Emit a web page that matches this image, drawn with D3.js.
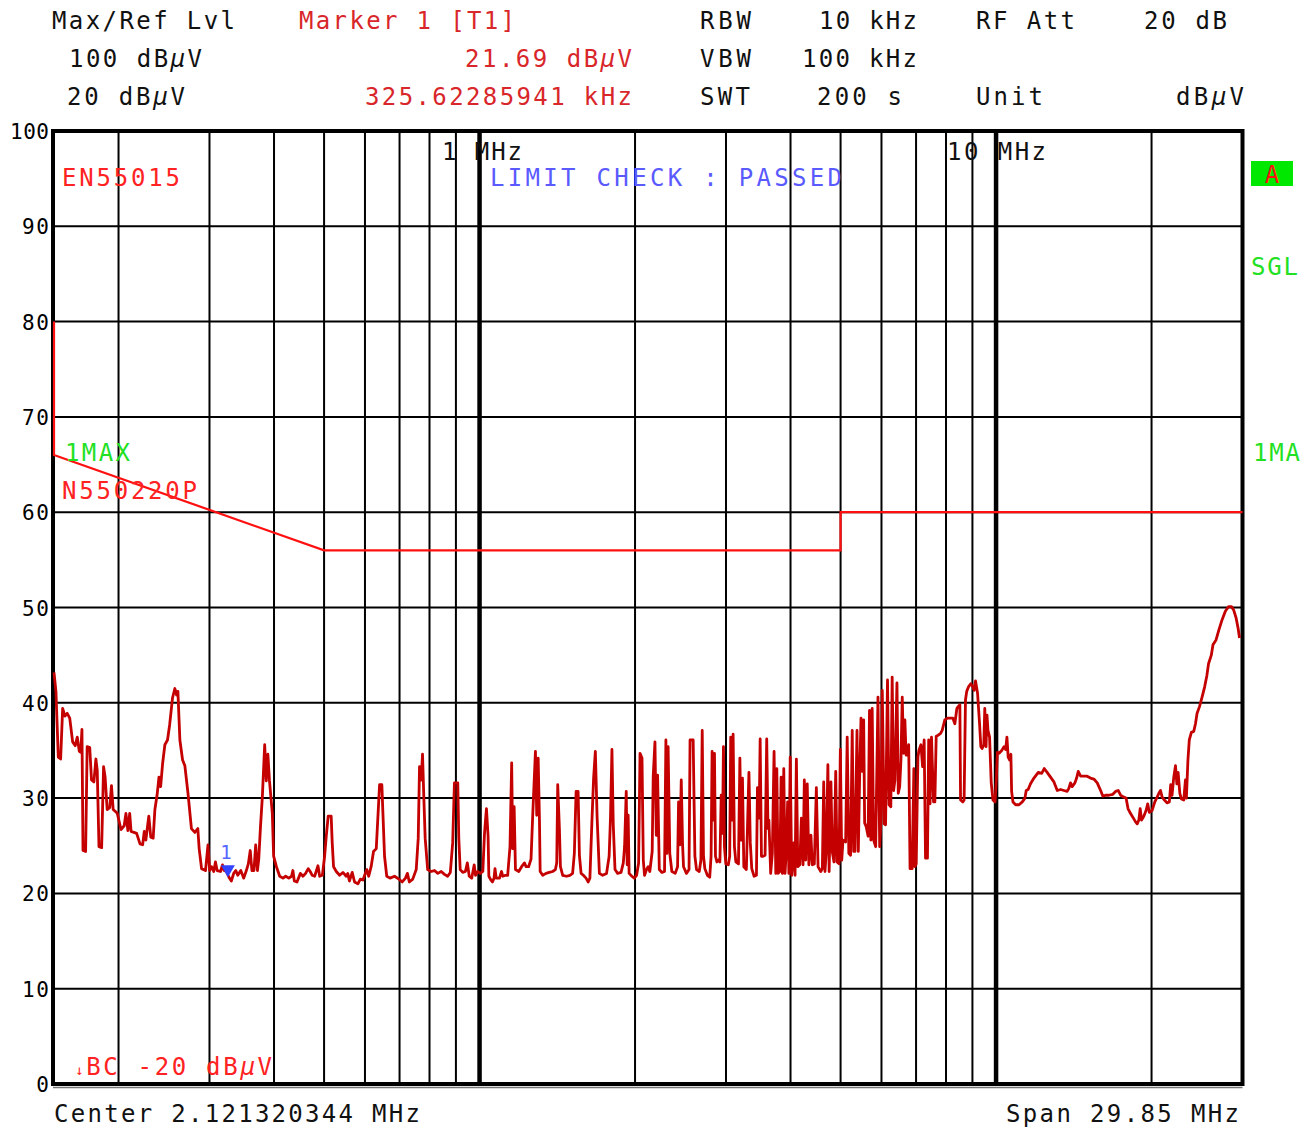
<!DOCTYPE html>
<html><head><meta charset="utf-8">
<script src="https://cdn.jsdelivr.net/npm/d3@7"></script>
<style>
html,body{margin:0;padding:0;background:#fff;}
svg text{font-family:"DejaVu Sans Mono","Liberation Mono",monospace;}
</style></head>
<body><svg id="c" width="1314" height="1131"></svg>
<script>
// ---------------- data ----------------
const yTicks = [0,10,20,30,40,50,60,70,80,90,100];
const gridFreqs = [0.2,0.3,0.4,0.5,0.6,0.7,0.8,0.9,1,2,3,4,5,6,7,8,9,10,20];
const majorFreqs = [1,10];
const limitFreq  = [0.15,0.15,0.5,5,5,30];
const limitLevel = [80,66,56,56,60,60];
const markerFreq = 0.32562285941;
const markerLevel = 21.69;
const traceFreq = [
0.1500,0.1513,0.1529,0.1545,0.1559,0.1575,0.1591,0.1609,0.1630,0.1649,0.1664,0.1679,0.1690,0.1699,0.1707,0.1727,0.1739,0.1759,0.1773,0.1792,
0.1808,0.1819,0.1833,0.1855,0.1871,0.1884,0.1901,0.1923,0.1938,0.1953,0.1989,0.2022,0.2051,0.2067,0.2085,0.2102,0.2115,0.2142,0.2168,0.2201,
0.2227,0.2243,0.2259,0.2289,0.2309,0.2334,0.2352,0.2376,0.2395,0.2413,0.2434,0.2459,0.2488,0.2512,0.2544,0.2571,0.2591,0.2606,0.2629,0.2661,
0.2688,0.2726,0.2768,0.2810,0.2848,0.2865,0.2896,0.2947,0.2980,0.3002,0.3029,0.3057,0.3081,0.3104,0.3151,0.3179,0.3202,0.3235,0.3272,0.3307,
0.3342,0.3373,0.3403,0.3449,0.3495,0.3536,0.3567,0.3598,0.3625,0.3658,0.3686,0.3715,0.3737,0.3765,0.3798,0.3837,0.3865,0.3892,0.3920,0.3970,
0.3993,0.4043,0.4103,0.4163,0.4213,0.4273,0.4325,0.4351,0.4379,0.4431,0.4499,0.4551,0.4605,0.4659,0.4700,0.4743,0.4794,0.4866,0.4903,0.4962,
0.5012,0.5049,0.5093,0.5161,0.5185,0.5216,0.5280,0.5359,0.5438,0.5519,0.5557,0.5598,0.5668,0.5728,0.5814,0.5877,0.5945,0.6049,0.6101,0.6167,
0.6233,0.6310,0.6367,0.6404,0.6469,0.6498,0.6547,0.6612,0.6710,0.6845,0.6979,0.7085,0.7187,0.7250,0.7312,0.7424,0.7540,0.7608,0.7652,0.7710,
0.7755,0.7799,0.7847,0.7935,0.8056,0.8179,0.8302,0.8429,0.8552,0.8674,0.8778,0.8871,0.8940,0.9075,0.9116,0.9173,0.9279,0.9388,0.9470,0.9551,
0.9657,0.9764,0.9822,0.9924,1.0031,1.0147,1.0223,1.0312,1.0388,1.0423,1.0521,1.0592,1.0668,1.0713,1.0771,1.0931,1.1028,1.1092,1.1223,1.1335,
1.1454,1.1539,1.1592,1.1667,1.1736,1.1911,1.2092,1.2215,1.2305,1.2443,1.2579,1.2672,1.2829,1.2904,1.2986,1.3061,1.3102,1.3253,1.3451,1.3643,
1.3851,1.4023,1.4106,1.4169,1.4277,1.4341,1.4487,1.4741,1.4960,1.5141,1.5259,1.5378,1.5517,1.5607,1.5725,1.5885,1.6073,1.6232,1.6354,1.6506,
1.6627,1.6757,1.6886,1.7061,1.7311,1.7615,1.7818,1.7926,1.8043,1.8150,1.8292,1.8508,1.8790,1.8981,1.9089,1.9230,1.9313,1.9396,1.9478,1.9723,
1.9932,2.0140,2.0322,2.0449,2.0631,2.0749,2.0867,2.1049,2.1203,2.1361,2.1589,2.1688,2.1857,2.1986,2.2115,2.2284,2.2552,2.2810,2.2949,2.3048,
2.3177,2.3350,2.3567,2.3925,2.4175,2.4283,2.4435,2.4576,2.4717,2.4826,2.5151,2.5444,2.5559,2.5915,2.6117,2.6307,2.6627,2.6828,2.6983,2.7137,
2.7303,2.7611,2.7901,2.8070,2.8199,2.8329,2.8498,2.8627,2.8809,2.9016,2.9198,2.9366,2.9535,2.9664,2.9794,2.9976,3.0313,3.0498,3.0640,3.0782,
3.0966,3.1150,3.1349,3.1717,3.1916,3.2100,3.2284,3.2483,3.2851,3.3231,3.3433,3.3650,3.4006,3.4362,3.4517,3.4780,3.4935,3.5137,3.5400,3.5710,
3.5973,3.6174,3.6324,3.6612,3.6883,3.7171,3.7459,3.7628,3.7848,3.8136,3.8356,3.8577,3.8814,3.9033,3.9254,3.9491,3.9708,3.9948,4.0208,4.0578,
4.0818,4.1059,4.1318,4.1688,4.1984,4.2299,4.2540,4.2799,4.3095,4.3405,4.3810,4.4073,4.4477,4.4882,4.5226,4.5772,4.6096,4.6379,4.6642,4.6905,
4.7249,4.7514,4.7892,4.8178,4.8554,4.8930,4.9217,4.9660,4.9947,5.0257,5.0545,5.1142,5.1496,5.1872,5.2276,5.2663,5.3002,5.3316,5.3799,5.4114,
5.4452,5.4767,5.5081,5.5420,5.5662,5.6048,5.6531,5.6879,5.7222,5.7566,5.7936,5.8464,5.9072,5.9521,5.9865,6.0209,6.0737,6.1107,6.1635,6.2062,
6.2553,6.2929,6.3334,6.3709,6.4287,6.4662,6.5067,6.5442,6.5818,6.6223,6.6598,6.6973,6.7378,6.7744,6.8154,6.8786,6.9322,6.9638,7.0049,7.0586,
7.0902,7.1533,7.2070,7.2576,7.3017,7.3649,7.4055,7.4504,7.4988,7.5678,7.6126,7.6575,7.7265,7.8094,7.8647,7.9578,8.0511,8.1590,8.2458,8.3212,
8.3967,8.4458,8.5099,8.5363,8.6232,8.6722,8.7250,8.7741,8.8495,8.9316,9.0142,9.0678,9.1255,9.2080,9.2905,9.3441,9.3978,9.4679,9.5091,9.5627,
9.6040,9.6453,9.7147,9.7869,9.8637,9.9539,10.013,10.058,10.135,10.256,10.360,10.437,10.496,10.554,10.619,10.683,10.718,10.782,10.915,11.078,
11.241,11.374,11.438,11.537,11.661,11.839,12.071,12.255,12.395,12.557,12.748,12.943,13.137,13.338,13.532,13.727,13.827,13.935,14.038,14.212,
14.321,14.425,14.579,14.792,15.005,15.234,15.466,15.699,15.938,16.101,16.291,16.523,16.829,17.037,17.237,17.422,17.676,17.853,18.007,18.203,
18.397,18.624,18.759,18.902,19.012,19.129,19.323,19.517,19.660,19.806,20.045,20.293,20.505,20.662,20.818,20.965,21.186,21.425,21.651,21.782,
21.912,22.083,22.254,22.385,22.516,22.687,22.858,23.089,23.260,23.361,23.522,23.666,23.886,24.139,24.326,24.502,24.766,25.052,25.348,25.601,
25.784,26.108,26.301,26.661,26.986,27.383,27.791,28.199,28.554,28.856,29.159,29.422,29.606
];
const traceLevel = [
43.2,41.2,34.3,34.1,39.4,38.6,38.9,38.4,35.9,35.5,36.4,34.9,34.8,37.2,24.5,24.4,35.4,35.3,31.9,31.7,
34.1,32.9,24.9,24.8,33.3,32.2,28.8,29.0,31.3,28.8,28.4,26.7,27.1,28.4,26.6,28.4,26.5,26.4,26.3,25.2,
25.1,26.5,25.6,28.1,25.9,25.8,28.8,30.4,32.2,31.2,33.6,35.6,36.1,37.7,40.5,41.5,40.8,41.2,36.1,34.0,
33.4,30.5,26.8,26.4,26.8,24.7,22.6,22.4,25.1,22.4,22.8,22.3,23.3,22.4,22.3,23.0,22.4,22.3,21.7,21.3,
22.1,22.4,21.9,22.4,21.6,22.4,23.1,24.5,22.4,22.4,25.1,22.4,23.6,26.9,30.2,35.6,31.8,34.6,31.8,28.4,
23.9,22.8,21.8,21.6,21.8,21.6,21.8,22.4,21.3,21.2,22.1,21.8,22.1,22.6,22.3,21.9,21.8,22.9,21.8,21.9,
23.9,26.0,28.1,28.1,25.3,22.8,22.3,21.9,22.2,21.8,22.1,21.3,22.2,21.2,21.0,21.5,21.4,22.5,21.8,22.8,
24.4,24.7,28.8,31.4,31.4,28.6,23.9,21.8,21.6,21.8,21.5,21.2,21.6,22.1,21.2,21.5,22.5,25.8,33.3,31.9,
34.6,30.2,25.8,22.5,22.3,22.4,22.1,22.3,22.0,21.8,22.2,25.3,31.6,31.6,25.8,22.5,22.2,22.3,23.2,21.8,
21.6,23.0,21.9,22.3,22.1,22.3,26.3,28.9,26.0,21.8,21.4,21.2,21.6,22.6,21.6,21.6,22.3,21.8,21.9,21.9,
24.9,33.7,24.7,29.1,22.5,22.3,22.9,23.2,22.8,22.8,23.6,28.1,34.9,28.2,34.2,27.7,22.3,21.9,22.1,22.2,
22.3,22.5,23.2,31.4,26.7,22.8,21.9,21.8,21.9,22.1,24.2,30.7,30.7,24.0,22.1,21.9,21.6,21.2,21.6,27.7,
32.1,34.9,28.1,22.1,21.9,22.1,23.9,27.9,35.1,27.2,22.5,22.1,22.2,23.2,24.9,30.7,23.0,28.2,22.1,21.8,
21.6,21.9,23.2,34.7,34.2,23.5,21.9,22.5,22.8,22.3,24.4,32.3,35.9,26.1,32.4,22.5,22.2,22.3,36.1,24.2,
35.4,24.2,22.3,22.1,22.8,29.6,25.1,31.9,25.2,22.8,22.1,22.5,36.1,36.1,23.9,22.5,22.3,23.5,37.1,23.9,
22.6,21.9,21.7,23.9,34.9,27.7,34.7,23.9,23.3,23.5,23.3,30.3,26.3,35.4,24.9,23.1,23.0,23.9,36.4,27.7,
36.7,24.9,23.3,23.1,34.2,25.6,32.1,22.8,22.5,32.7,25.3,22.6,21.8,21.9,31.1,27.9,36.2,23.9,23.9,24.0,
36.2,26.8,27.7,22.1,24.2,34.9,22.1,33.1,22.1,22.3,32.2,22.1,33.1,22.1,24.5,29.6,22.1,34.3,21.9,25.3,
21.9,34.1,22.8,23.0,27.9,23.0,31.9,23.5,31.5,23.0,26.1,23.0,23.1,31.1,22.8,22.3,22.6,31.7,22.3,24.4,
33.5,22.3,31.7,24.4,23.3,32.8,23.3,23.1,35.1,23.5,25.6,25.4,36.4,24.2,24.0,37.1,24.4,24.4,37.1,24.4,
32.6,38.4,32.8,38.2,27.4,27.0,26.0,39.2,25.6,39.4,25.6,24.9,40.6,24.9,27.7,41.3,27.3,27.2,42.4,29.3,
29.1,42.7,30.8,31.9,42.1,30.5,31.2,34.0,40.6,34.7,38.2,34.5,34.5,35.6,22.6,22.6,33.1,22.8,23.1,34.3,
35.0,35.6,33.3,36.1,23.7,23.7,36.1,29.4,36.4,29.6,29.6,36.5,36.6,36.8,37.1,38.2,38.4,38.4,38.4,37.8,
39.4,39.6,39.8,29.8,29.6,29.8,40.3,41.2,41.7,42.0,41.7,41.3,42.3,41.0,37.8,35.4,35.2,35.6,39.4,35.4,
38.7,37.1,36.4,31.6,29.8,29.6,31.9,34.8,34.7,35.0,35.4,35.1,36.4,34.3,34.0,34.6,30.7,29.6,29.3,29.3,
29.6,30.0,30.8,30.9,31.5,32.1,32.7,32.6,33.1,32.7,32.2,31.7,30.8,30.9,30.8,30.7,31.0,31.6,31.2,31.6,
32.1,32.8,32.3,32.3,32.3,32.1,32.0,31.6,30.8,30.2,30.3,30.3,30.4,30.7,30.8,30.3,30.1,30.0,28.9,28.4,
28.0,27.5,27.3,27.7,28.9,27.7,28.1,28.7,29.4,28.5,28.7,29.6,30.1,30.5,30.8,30.1,29.8,29.5,29.6,31.4,
30.3,32.2,33.4,31.5,32.7,30.5,29.9,29.8,31.9,30.0,34.0,36.1,36.9,37.0,37.8,38.9,39.6,40.6,41.7,42.9,
44.1,45.0,46.1,46.6,47.6,48.7,49.6,50.1,50.1,49.7,48.9,47.8,46.8
];

// ---------------- drawing ----------------
const svg = d3.select("#c");
svg.append("rect").attr("width",1314).attr("height",1131).attr("fill","#fff");

const x = d3.scaleLog().domain([0.15,30]).range([54,1242.5]);
const y = d3.scaleLinear().domain([0,100]).range([1084,131]);
const X0 = x.range()[0], X1 = x.range()[1], Y0 = y.range()[0], Y1 = y.range()[1];

const grid = svg.append("g");
grid.selectAll("line.h").data(yTicks.filter(v=>v>0&&v<100)).join("line")
  .attr("x1",X0).attr("x2",X1).attr("y1",d=>y(d)).attr("y2",d=>y(d))
  .attr("stroke","#000").attr("stroke-width",2);
grid.selectAll("line.v").data(gridFreqs).join("line")
  .attr("x1",d=>x(d)).attr("x2",d=>x(d)).attr("y1",Y1).attr("y2",Y0)
  .attr("stroke","#000").attr("stroke-width",d=>majorFreqs.includes(d)?4.5:2);

// frame
svg.append("rect").attr("x",X0-1).attr("y",Y1).attr("width",X1-X0+1).attr("height",Y0-Y1)
  .attr("fill","none").attr("stroke","#000").attr("stroke-width",4);
svg.append("line").attr("x1",X0-1).attr("x2",X1).attr("y1",Y0+3.5).attr("y2",Y0+3.5)
  .attr("stroke","#777").attr("stroke-width",1.5);

// y axis labels
const yAxis = d3.axisLeft(y).tickValues(yTicks).tickSize(0).tickPadding(0).tickFormat(d3.format("d"));
const ya = svg.append("g").attr("transform","translate(49,0)").call(yAxis);
ya.select(".domain").remove();
ya.selectAll("text").attr("font-size",21).attr("fill","#000")
  .attr("font-family","'DejaVu Sans Mono','Liberation Mono',monospace")
  .attr("dy","0.36em").attr("textLength",d=>d===100?39:(d===0?13:27)).attr("lengthAdjust","spacing");

// limit line
const lim = limitFreq.map((f,i)=>[f,limitLevel[i]]);
svg.append("path").datum(lim)
  .attr("d",d3.line().x(d=>x(d[0])).y(d=>y(d[1])))
  .attr("fill","none").attr("stroke","#ff1010").attr("stroke-width",2.2);

// trace
const tr = traceFreq.map((f,i)=>[f,traceLevel[i]]);
svg.append("path").datum(tr)
  .attr("d",d3.line().x(d=>x(d[0])).y(d=>y(d[1])))
  .attr("fill","none").attr("stroke","#c40000").attr("stroke-width",2.8)
  .attr("stroke-linejoin","round");

// marker
const mx = x(markerFreq), my = y(markerLevel);
svg.append("path").attr("d",`M${mx-7},${my-12}L${mx+7},${my-12}L${mx},${my}Z`).attr("fill","#3344ff");
svg.append("text").attr("x",mx-2).attr("y",my-18).attr("font-size",19).attr("fill","#5566ff").attr("text-anchor","middle").text("1");

// ---------------- texts ----------------
const FS = 24;
function T(xp,yp,str,col,size,len,anchor){
  const t = svg.append("text").attr("x",xp).attr("y",yp).attr("fill",col)
    .attr("font-size",size).attr("text-anchor",anchor||"start");
  if(len) t.attr("textLength",len).attr("lengthAdjust","spacing");
  const parts = str.split("µ");
  parts.forEach((p,i)=>{
    if(i>0) t.append("tspan").attr("font-style","italic").text("µ");
    if(p) t.append("tspan").text(p);
  });
  return t;
}
const BK="#111", RD="#d8262a", BR="#ff2222", BL="#5a5aff", GR="#22e022";
// header
T(52,29,"Max/Ref Lvl",BK,FS,183);
T(299,29,"Marker 1 [T1]",RD,FS,216);
T(700,29,"RBW",BK,FS,51);
T(819,29,"10 kHz",BK,FS,98);
T(976,29,"RF Att",BK,FS,99);
T(1144,29,"20 dB",BK,FS,83);
T(69,67,"100 dBµV",BK,FS,133);
T(465,67,"21.69 dBµV",RD,FS,167);
T(700,67,"VBW",BK,FS,51);
T(802,67,"100 kHz",BK,FS,115);
T(67,105,"20 dBµV",BK,FS,118);
T(365,105,"325.62285941 kHz",RD,FS,267);
T(700,105,"SWT",BK,FS,50);
T(817,105,"200 s",BK,FS,85);
T(976,105,"Unit",BK,FS,67);
T(1176,105,"dBµV",BK,FS,68);
// inside plot
T(442,160,"1 MHz",BK,FS,80);
T(947,160,"10 MHz",BK,FS,99);
T(62,186,"EN55015",BR,FS,118);
T(490,186,"LIMIT CHECK   : PASSED",BL,FS,352);
T(65,461,"1MAX",GR,FS,65);
T(62,499,"N550220P",BR,FS,135);
const bc = svg.append("text").attr("x",75).attr("y",1075).attr("fill",BR).attr("font-size",FS);
bc.append("tspan").attr("font-size",14).text("↓");
bc.append("tspan").text("BC -20 dB");
bc.append("tspan").attr("font-style","italic").text("µ");
bc.append("tspan").text("V");
bc.attr("textLength",197).attr("lengthAdjust","spacing");
// bottom
T(54,1122,"Center 2.121320344 MHz",BK,FS,366);
T(1006,1122,"Span 29.85 MHz",BK,FS,233);
// right side
svg.append("rect").attr("x",1251).attr("y",161).attr("width",42).attr("height",25).attr("fill","#00e800");
T(1272,183,"A","#ff1010",FS,null,"middle");
T(1251,275,"SGL",GR,FS,47);
T(1253,461,"1MA",GR,FS,47);
</script></body></html>
